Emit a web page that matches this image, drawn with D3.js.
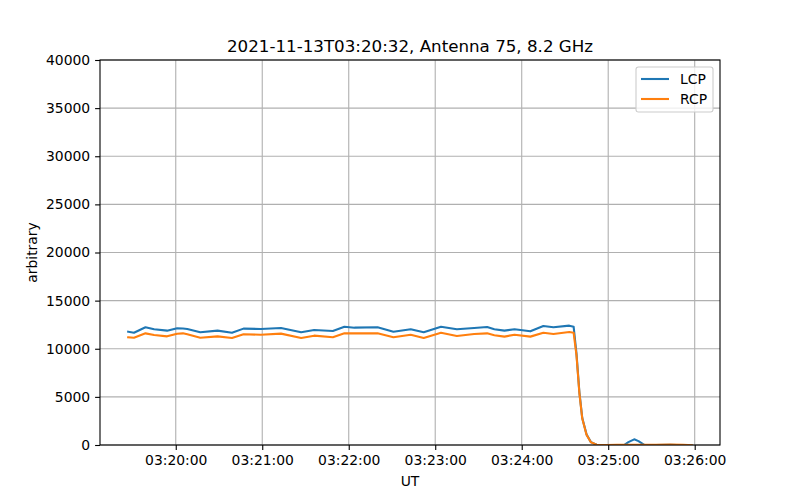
<!DOCTYPE html>
<html>
<head>
<meta charset="utf-8">
<script src="https://cdn.jsdelivr.net/npm/d3@7"></script>
<style>
  body { margin: 0; background: #fff; }
  svg { font-family: "DejaVu Sans", sans-serif; }
</style>
</head>
<body>
<svg id="chart" width="800" height="500"></svg>
<script>
// sample times (UT, 2021-11-13)
let times = [
  "03:19:27", "03:19:31", "03:19:39", "03:19:45", "03:19:54", "03:20:01", "03:20:05", "03:20:08",
  "03:20:17", "03:20:29", "03:20:39", "03:20:47", "03:20:59", "03:21:13", "03:21:27", "03:21:36",
  "03:21:49", "03:21:57", "03:22:04", "03:22:20", "03:22:31", "03:22:43", "03:22:52", "03:23:04",
  "03:23:15", "03:23:27", "03:23:36", "03:23:41", "03:23:48", "03:23:55", "03:24:06", "03:24:15",
  "03:24:22", "03:24:33", "03:24:36", "03:24:38", "03:24:40", "03:24:42", "03:24:45", "03:24:48",
  "03:24:52", "03:24:59", "03:25:06", "03:25:11", "03:25:14", "03:25:18", "03:25:21", "03:25:25",
  "03:25:33", "03:25:43", "03:25:52", "03:25:58"
];

let lcp = [
  11770, 11670, 12230, 12020, 11880, 12120, 12100, 12050,
  11710, 11880, 11670, 12090, 12050, 12160, 11710, 11950,
  11840, 12290, 12190, 12230, 11770, 12020, 11710, 12290,
  12020, 12160, 12260, 12020, 11880, 12020, 11810, 12360,
  12230, 12400, 12290, 9500, 5500, 2800, 1100, 300,
  30, -20, -30, 0, 300, 590, 400, 20,
  0, 10, -30, -80
];

let rcp = [
  11190, 11140, 11600, 11430, 11290, 11560, 11600, 11500,
  11150, 11290, 11120, 11500, 11460, 11570, 11120, 11360,
  11190, 11600, 11600, 11600, 11190, 11460, 11120, 11670,
  11330, 11530, 11600, 11400, 11260, 11460, 11260, 11670,
  11530, 11740, 11670, 9300, 5400, 2750, 1050, 280,
  30, 0, 10, 10, 10, 20, 20, 20,
  30, 40, 10, -30
];

let yTicks = [0, 5000, 10000, 15000, 20000, 25000, 30000, 35000, 40000];

let seriesNames = ["LCP", "RCP"];
let seriesColors = ["#1f77b4", "#ff7f0e"];

let margin = {top: 60, right: 80, bottom: 55, left: 100};
let width = 800 - margin.left - margin.right;
let height = 500 - margin.top - margin.bottom;

let parseTime = d3.timeParse("%Y-%m-%d %H:%M:%S");
let dates = times.map(t => parseTime("2021-11-13 " + t));

// matplotlib style 5% padding on x
let ext = d3.extent(dates);
let pad = (ext[1] - ext[0]) * 0.05;
let x = d3.scaleTime()
    .domain([new Date(+ext[0] - pad), new Date(+ext[1] + pad)])
    .range([0, width]);

let y = d3.scaleLinear()
    .domain([0, 40000])
    .range([height, 0]);

let svg = d3.select("#chart");
let g = svg.append("g").attr("transform", "translate(" + margin.left + "," + margin.top + ")");

svg.append("defs").append("clipPath").attr("id", "clip")
  .append("rect").attr("width", width).attr("height", height);

let xTicks = d3.range(20, 27).map(m => parseTime("2021-11-13 03:" + m + ":00"));

// grid
g.selectAll("line.xgrid").data(xTicks).enter().append("line")
    .attr("class", "xgrid")
    .attr("x1", d => x(d)).attr("x2", d => x(d))
    .attr("y1", 0).attr("y2", height)
    .attr("stroke", "#b0b0b0").attr("stroke-width", 1.1);

g.selectAll("line.ygrid").data(yTicks).enter().append("line")
    .attr("class", "ygrid")
    .attr("x1", 0).attr("x2", width)
    .attr("y1", d => y(d)).attr("y2", d => y(d))
    .attr("stroke", "#b0b0b0").attr("stroke-width", 1.1);

// lines
let allSeries = [lcp, rcp];
let line = d3.line()
    .x((d, i) => x(dates[i]))
    .y(d => y(d));

g.append("g").attr("clip-path", "url(#clip)")
  .selectAll("path").data(allSeries).enter().append("path")
    .attr("d", d => line(d))
    .attr("fill", "none")
    .attr("stroke", (d, i) => seriesColors[i])
    .attr("stroke-width", 2.1)
    .attr("stroke-linejoin", "round")
    .attr("stroke-linecap", "square");

// axes
let xAxis = d3.axisBottom(x).tickValues(xTicks)
    .tickFormat(d3.timeFormat("%H:%M:%S"))
    .tickSize(4.9).tickPadding(4.9);
let yAxis = d3.axisLeft(y).tickValues(yTicks)
    .tickFormat(d3.format("d"))
    .tickSize(4.9).tickPadding(4.9);

let gx = g.append("g").attr("transform", "translate(0," + height + ")").call(xAxis);
let gy = g.append("g").call(yAxis);

[gx, gy].forEach(a => {
    a.select(".domain").remove();
    a.selectAll("text").attr("font-size", "13.9px").attr("fill", "#000")
        .attr("font-family", "DejaVu Sans, sans-serif");
    a.selectAll("line").attr("stroke", "#000").attr("stroke-width", 1.1);
});

// frame
g.append("rect")
    .attr("width", width).attr("height", height)
    .attr("fill", "none").attr("stroke", "#000").attr("stroke-width", 1.1);

// title & labels
svg.append("text")
    .attr("x", margin.left + width / 2).attr("y", margin.top - 8)
    .attr("text-anchor", "middle")
    .attr("font-size", "16.7px")
    .text("2021-11-13T03:20:32, Antenna 75, 8.2 GHz");

svg.append("text")
    .attr("x", margin.left + width / 2).attr("y", 486)
    .attr("text-anchor", "middle")
    .attr("font-size", "13.9px")
    .text("UT");

svg.append("text")
    .attr("transform", "translate(37," + (margin.top + height / 2) + ") rotate(-90)")
    .attr("text-anchor", "middle")
    .attr("font-size", "13.9px")
    .text("arbitrary");

// legend
let lg = g.append("g").attr("transform", "translate(" + (width - 84) + ",7)");
lg.append("rect")
    .attr("width", 77).attr("height", 45).attr("rx", 2.5)
    .attr("fill", "#fff").attr("fill-opacity", 0.8)
    .attr("stroke", "#cccccc").attr("stroke-width", 1.1);

seriesNames.forEach((name, i) => {
    let yy = 12 + i * 20;
    lg.append("line")
        .attr("x1", 5).attr("x2", 33).attr("y1", yy).attr("y2", yy)
        .attr("stroke", seriesColors[i]).attr("stroke-width", 2.1);
    lg.append("text")
        .attr("x", 44).attr("y", yy + 5)
        .attr("font-size", "13.9px")
        .text(name);
});
</script>
</body>
</html>
